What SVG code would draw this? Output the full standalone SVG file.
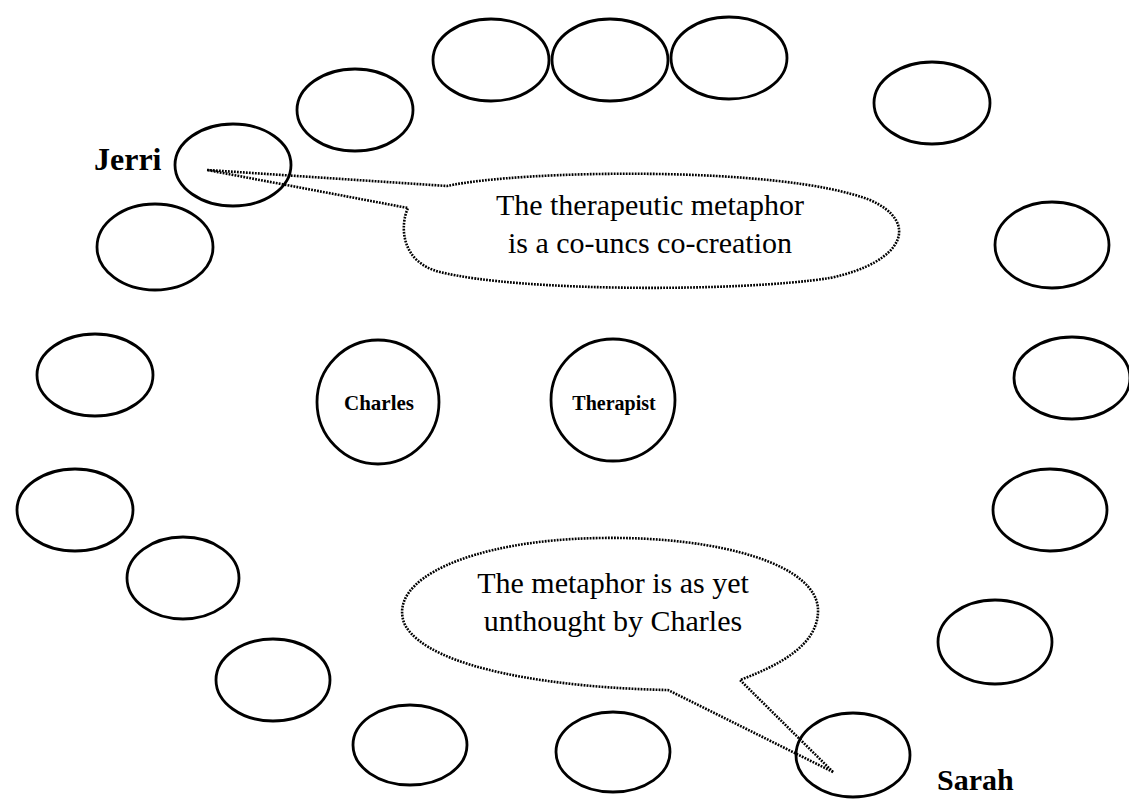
<svg xmlns="http://www.w3.org/2000/svg" width="1129" height="800" viewBox="0 0 1129 800">
<style>
.n{fill:none;stroke:#000;stroke-width:2.8}
.b{fill:none;stroke:#000;stroke-width:2.6;stroke-dasharray:1.8 1.2}
.t{font-family:"Liberation Serif","Times New Roman",serif;font-size:30px;fill:#000;text-anchor:middle}
.l{font-family:"Liberation Serif","Times New Roman",serif;font-size:30px;font-weight:bold;fill:#000}
.c{font-family:"Liberation Serif","Times New Roman",serif;font-size:21px;font-weight:bold;fill:#000;text-anchor:middle}
</style>
<rect width="1129" height="800" fill="#fff"/>
<g id="p1"><ellipse class="n" cx="491" cy="60" rx="58" ry="41"/></g>
<g id="p2"><ellipse class="n" cx="610" cy="60" rx="58" ry="41"/></g>
<g id="p3"><ellipse class="n" cx="729" cy="58" rx="58" ry="41"/></g>
<g id="p4"><ellipse class="n" cx="355" cy="110" rx="58" ry="41"/></g>
<g id="p5"><ellipse class="n" cx="932" cy="103" rx="58" ry="41"/></g>
<g id="jerri"><ellipse class="n" cx="233" cy="165" rx="58" ry="41"/><text class="l" x="94" y="170" style="font-size:32px">Jerri</text></g>
<g id="p7"><ellipse class="n" cx="155" cy="247" rx="58" ry="43"/></g>
<g id="p8"><ellipse class="n" cx="1052" cy="245" rx="57" ry="43"/></g>
<g id="p9"><ellipse class="n" cx="95" cy="375" rx="58" ry="41"/></g>
<g id="p10"><ellipse class="n" cx="1072" cy="378" rx="58" ry="41"/></g>
<g id="charles"><ellipse class="n" cx="378" cy="402" rx="61" ry="62"/><text class="c" x="379" y="410">Charles</text></g>
<g id="therapist"><ellipse class="n" cx="613" cy="400" rx="62" ry="61"/><text class="c" x="614" y="410" style="font-size:20px">Therapist</text></g>
<g id="p13"><ellipse class="n" cx="75" cy="510" rx="58" ry="41"/></g>
<g id="p14"><ellipse class="n" cx="1050" cy="510" rx="57" ry="41"/></g>
<g id="p15"><ellipse class="n" cx="183" cy="578" rx="56" ry="41"/></g>
<g id="p16"><ellipse class="n" cx="995" cy="642" rx="57" ry="42"/></g>
<g id="p17"><ellipse class="n" cx="273" cy="680" rx="57" ry="41"/></g>
<g id="p18"><ellipse class="n" cx="410" cy="745" rx="57" ry="40"/></g>
<g id="p19"><ellipse class="n" cx="613" cy="752" rx="57" ry="40"/></g>
<g id="sarah"><ellipse class="n" cx="853" cy="755" rx="57" ry="42"/><text class="l" x="937" y="790">Sarah</text></g>
<g id="connectors">
<g id="bubble1"><path class="b" d="M207,170 L447,186 C520,170 780,165 870,200 C920,222 905,262 830,278 C740,292 520,292 440,272 C400,262 400,225 408,208 Z"/>
<text class="t" x="650" y="215">The therapeutic metaphor</text><text class="t" x="650" y="253">is a co-uncs co-creation</text></g>
<g id="bubble2"><path class="b" d="M833,772 L668,690 C560,688 430,670 405,625 C385,580 470,540 600,538 C720,536 820,565 818,612 C817,645 780,665 740,680 Z"/>
<text class="t" x="613" y="593">The metaphor is as yet</text><text class="t" x="613" y="631">unthought by Charles</text></g>
</g>
</svg>
